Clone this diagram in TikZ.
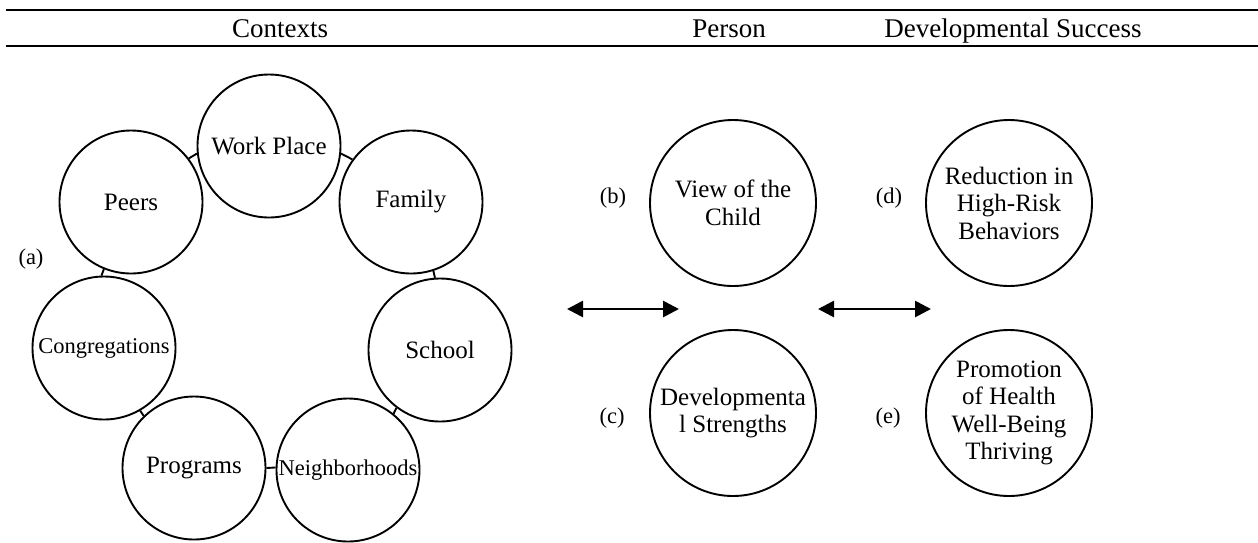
\documentclass[tikz,border=0pt]{standalone}
\usepackage{fontspec}
\setmainfont{Liberation Serif}
\usetikzlibrary{arrows.meta}
\begin{document}
\begin{tikzpicture}[x=1pt,y=-1pt,
  ctx/.style={circle, draw, line width=1.9pt, fill=white, minimum size=143pt, inner sep=0pt,
    font=\fontsize{25}{27}\selectfont, align=center},
  ctxsmall/.style={ctx, font=\fontsize{22.5}{27}\selectfont},
  big/.style={circle, draw, line width=1.9pt, fill=white, minimum size=166pt, inner sep=0pt,
    font=\fontsize{25}{27.5}\selectfont, align=center},
  link/.style={line width=1.9pt},
  rule/.style={line width=2.2pt},
  biarrow/.style={line width=2.7pt, {Triangle[length=16pt,width=16pt]}-{Triangle[length=16pt,width=16pt]}},
  lab/.style={font=\fontsize{22.5}{27}\selectfont},
  head/.style={font=\fontsize{27}{30}\selectfont, anchor=base, inner sep=0pt}]
\useasboundingbox (0,0) rectangle (1258,542);

% header rules
\coordinate (t1) at (6,10); \coordinate (t2) at (1258,10);
\coordinate (b1) at (6,46); \coordinate (b2) at (1258,46);
\draw[rule] (t1) -- (t2);
\draw[rule] (b1) -- (b2);
\node[head] (hctx) at (280,37) {Contexts};
\node[head] (hper) at (729,37) {Person};
\node[head] (hdev) at (1013,37) {Developmental Success};

% context ring
\node[ctx] (work) at (269,146) {Work Place};
\node[ctx] (peers) at (131,202) {Peers};
\node[ctx] (family) at (411,202) {Family};
\node[ctxsmall] (cong) at (104,348) {Congregations};
\node[ctx] (school) at (440,350) {School};
\node[ctx] (prog) at (194,468) {Programs};
\node[ctxsmall] (neigh) at (348,470) {Neighborhoods};

\draw[link] (peers.37.6) -- (work.186.7);
\draw[link] (work.-6.7) -- (family.144);
\draw[link] (family.-72) -- (school.94);
\draw[link] (school.233.6) -- (neigh.51.5);
\draw[link] (neigh.178.5) -- (prog.0);
\draw[link] (prog.134.5) -- (cong.-60.7);
\draw[link] (cong.92.5) -- (peers.248.5);

\node[lab] (la) at (31,259) {(a)};

% person
\node[big] (view) at (733,203) {View of the\\Child};
\node[big] (dev) at (733,413) {Developmenta\\l Strengths};
\node[lab] (lb) at (613,198) {(b)};
\node[lab] (lc) at (612,418) {(c)};

% developmental success
\node[big] (red) at (1009,203) {Reduction in\\High-Risk\\Behaviors};
\node[big] (prom) at (1009,413) {Promotion\\of Health\\Well-Being\\Thriving};
\node[lab] (ld) at (889,198) {(d)};
\node[lab] (le) at (888,418) {(e)};

% arrows
\coordinate (a1l) at (567,309); \coordinate (a1r) at (679,309);
\coordinate (a2l) at (818,309); \coordinate (a2r) at (931,309);
\draw[biarrow] (a1l) -- (a1r);
\draw[biarrow] (a2l) -- (a2r);
\end{tikzpicture}
\end{document}
